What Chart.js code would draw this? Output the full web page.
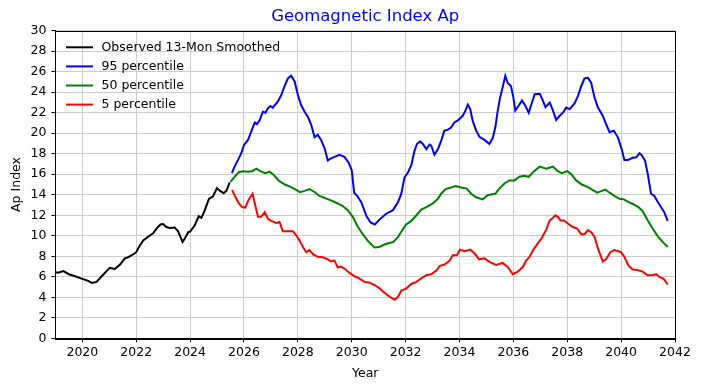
<!DOCTYPE html>
<html lang="en">

<head>
    <meta charset="UTF-8">
    <title>Geomagnetic Index Ap</title>
    <style>
        body { margin: 0; background: #fff; }
    </style>
</head>

<body>
    <canvas id="myChart" width="701" height="390"></canvas>
    <script src="https://cdn.jsdelivr.net/npm/chart.js"></script>
    <script>
        // [year, Ap] pairs
        const observedAp = [
            [2019.0, 6.45], [2019.1, 6.4], [2019.3, 6.55], [2019.5, 6.25], [2019.73, 6.05], [2020.0, 5.8],
            [2020.22, 5.6], [2020.35, 5.4], [2020.53, 5.5], [2020.72, 6.05], [2020.9, 6.55], [2021.02, 6.87],
            [2021.2, 6.75], [2021.4, 7.2], [2021.58, 7.8], [2021.7, 7.9], [2021.9, 8.2], [2022.0, 8.4],
            [2022.1, 8.9], [2022.26, 9.55], [2022.44, 9.9], [2022.63, 10.25], [2022.75, 10.7], [2022.9, 11.1],
            [2023.0, 11.15], [2023.12, 10.85], [2023.25, 10.75], [2023.43, 10.8], [2023.55, 10.45], [2023.72, 9.4],
            [2023.8, 9.7], [2023.93, 10.35], [2024.0, 10.4], [2024.17, 11.0], [2024.32, 11.9], [2024.42, 11.75],
            [2024.54, 12.45], [2024.7, 13.6], [2024.85, 13.85], [2025.0, 14.65], [2025.1, 14.4], [2025.25, 14.15],
            [2025.35, 14.4], [2025.47, 15.2]
        ];

        const p95Ap = [
            [2025.55, 16.1], [2025.65, 16.75], [2025.78, 17.4], [2025.9, 18.05], [2026.0, 18.85], [2026.15, 19.35],
            [2026.27, 20.15], [2026.4, 21.05], [2026.48, 20.9], [2026.58, 21.25], [2026.7, 22.1], [2026.8, 22.0],
            [2026.89, 22.45], [2026.98, 22.65], [2027.07, 22.5], [2027.26, 23.1], [2027.38, 23.7], [2027.5, 24.55],
            [2027.63, 25.35], [2027.75, 25.6], [2027.88, 25.05], [2028.0, 23.75], [2028.12, 22.75], [2028.25, 22.1],
            [2028.37, 21.6], [2028.5, 20.8], [2028.62, 19.6], [2028.74, 19.85], [2028.86, 19.35], [2028.99, 18.55],
            [2029.11, 17.35], [2029.23, 17.55], [2029.36, 17.7], [2029.54, 17.9], [2029.73, 17.7], [2029.89, 17.1],
            [2030.0, 16.4], [2030.09, 14.2], [2030.2, 13.9], [2030.35, 13.3], [2030.55, 11.9], [2030.7, 11.3],
            [2030.86, 11.1], [2031.04, 11.6], [2031.28, 12.15], [2031.53, 12.5], [2031.72, 13.3], [2031.84, 14.1],
            [2031.96, 15.7], [2032.09, 16.2], [2032.21, 16.85], [2032.33, 18.3], [2032.42, 18.95], [2032.54, 19.2],
            [2032.64, 18.95], [2032.77, 18.45], [2032.89, 18.9], [2032.95, 18.8], [2033.07, 17.9], [2033.2, 18.45],
            [2033.32, 19.25], [2033.44, 20.25], [2033.57, 20.35], [2033.69, 20.55], [2033.81, 21.05], [2033.94, 21.25],
            [2034.12, 21.7], [2034.22, 22.2], [2034.31, 22.8], [2034.4, 22.35], [2034.49, 21.2], [2034.62, 20.25],
            [2034.74, 19.65], [2034.93, 19.35], [2035.11, 18.95], [2035.23, 19.5], [2035.33, 20.55], [2035.42, 22.2],
            [2035.51, 23.5], [2035.6, 24.45], [2035.7, 25.6], [2035.79, 24.9], [2035.91, 24.6], [2036.0, 23.5],
            [2036.07, 22.2], [2036.2, 22.7], [2036.32, 23.2], [2036.44, 22.7], [2036.57, 22.0], [2036.69, 23.0],
            [2036.79, 23.8], [2036.98, 23.85], [2037.1, 23.15], [2037.19, 22.55], [2037.35, 23.0], [2037.47, 22.2],
            [2037.59, 21.3], [2037.72, 21.7], [2037.84, 22.0], [2037.96, 22.5], [2038.09, 22.35], [2038.27, 22.9],
            [2038.4, 23.65], [2038.52, 24.6], [2038.64, 25.35], [2038.77, 25.4], [2038.89, 24.9], [2039.01, 23.5],
            [2039.14, 22.5], [2039.32, 21.7], [2039.44, 20.9], [2039.57, 20.1], [2039.73, 20.25], [2039.88, 19.6],
            [2040.02, 18.45], [2040.12, 17.4], [2040.25, 17.4], [2040.43, 17.6], [2040.56, 17.65], [2040.68, 18.05],
            [2040.77, 17.85], [2040.89, 17.3], [2040.99, 16.0], [2041.11, 14.1], [2041.23, 13.9], [2041.36, 13.3],
            [2041.48, 12.8], [2041.6, 12.3], [2041.73, 11.45]
        ];

        const p50Ap = [
            [2025.5, 15.25], [2025.65, 15.75], [2025.81, 16.2], [2025.96, 16.3], [2026.15, 16.25], [2026.3, 16.3],
            [2026.46, 16.55], [2026.64, 16.25], [2026.8, 16.1], [2026.95, 16.25], [2027.1, 15.95], [2027.3, 15.35],
            [2027.52, 15.0], [2027.75, 14.75], [2027.92, 14.5], [2028.08, 14.25], [2028.25, 14.38], [2028.43, 14.55],
            [2028.62, 14.27], [2028.8, 13.88], [2028.99, 13.7], [2029.23, 13.45], [2029.48, 13.15], [2029.67, 12.9],
            [2029.85, 12.5], [2030.04, 11.85], [2030.22, 10.9], [2030.41, 10.15], [2030.6, 9.5], [2030.84, 8.85],
            [2031.02, 8.9], [2031.21, 9.15], [2031.4, 9.3], [2031.55, 9.4], [2031.72, 9.9], [2031.84, 10.4],
            [2032.0, 11.05], [2032.21, 11.45], [2032.4, 12.0], [2032.58, 12.55], [2032.77, 12.8], [2033.01, 13.15],
            [2033.2, 13.6], [2033.32, 14.1], [2033.48, 14.55], [2033.69, 14.7], [2033.85, 14.85], [2034.06, 14.7],
            [2034.27, 14.6], [2034.43, 14.1], [2034.62, 13.75], [2034.86, 13.55], [2035.05, 13.95], [2035.21, 14.05],
            [2035.33, 14.1], [2035.48, 14.6], [2035.67, 15.1], [2035.85, 15.4], [2036.04, 15.4], [2036.22, 15.75],
            [2036.41, 15.85], [2036.57, 15.75], [2036.77, 16.3], [2036.98, 16.75], [2037.22, 16.55], [2037.47, 16.75],
            [2037.65, 16.3], [2037.8, 16.1], [2038.0, 16.3], [2038.15, 16.0], [2038.33, 15.4], [2038.54, 15.0],
            [2038.77, 14.75], [2038.95, 14.45], [2039.11, 14.2], [2039.26, 14.35], [2039.42, 14.5], [2039.6, 14.15],
            [2039.78, 13.85], [2039.94, 13.6], [2040.1, 13.55], [2040.27, 13.3], [2040.47, 13.05], [2040.64, 12.8],
            [2040.8, 12.4], [2040.99, 11.5], [2041.17, 10.7], [2041.36, 9.95], [2041.54, 9.4], [2041.73, 8.9]
        ];

        const p5Ap = [
            [2025.56, 14.45], [2025.68, 13.8], [2025.81, 13.15], [2025.93, 12.8], [2026.05, 12.75], [2026.17, 13.5],
            [2026.32, 14.1], [2026.42, 12.95], [2026.52, 11.85], [2026.64, 11.85], [2026.77, 12.3], [2026.89, 11.65],
            [2027.01, 11.45], [2027.2, 11.25], [2027.32, 11.35], [2027.44, 10.45], [2027.63, 10.45], [2027.81, 10.45],
            [2027.94, 10.05], [2028.06, 9.55], [2028.19, 8.9], [2028.31, 8.4], [2028.43, 8.6], [2028.56, 8.2],
            [2028.74, 7.95], [2028.93, 7.9], [2029.11, 7.7], [2029.23, 7.5], [2029.36, 7.6], [2029.48, 6.9],
            [2029.6, 7.0], [2029.73, 6.8], [2029.91, 6.4], [2030.1, 6.05], [2030.28, 5.85], [2030.47, 5.5],
            [2030.65, 5.45], [2030.84, 5.2], [2031.02, 4.9], [2031.19, 4.5], [2031.41, 4.05], [2031.59, 3.75],
            [2031.72, 4.05], [2031.84, 4.65], [2032.02, 4.85], [2032.21, 5.3], [2032.4, 5.5], [2032.58, 5.85],
            [2032.77, 6.15], [2032.95, 6.25], [2033.14, 6.6], [2033.26, 7.05], [2033.44, 7.2], [2033.63, 7.55],
            [2033.75, 8.1], [2033.9, 8.1], [2034.02, 8.65], [2034.19, 8.5], [2034.4, 8.65], [2034.57, 8.25],
            [2034.73, 7.7], [2034.93, 7.8], [2035.11, 7.45], [2035.36, 7.15], [2035.6, 7.35], [2035.79, 6.95],
            [2035.98, 6.25], [2036.16, 6.5], [2036.35, 6.95], [2036.47, 7.55], [2036.6, 7.95], [2036.77, 8.75],
            [2036.91, 9.25], [2037.06, 9.8], [2037.22, 10.6], [2037.35, 11.5], [2037.43, 11.65], [2037.56, 12.0],
            [2037.65, 11.85], [2037.75, 11.5], [2037.88, 11.5], [2038.02, 11.2], [2038.21, 10.85], [2038.37, 10.7],
            [2038.52, 10.15], [2038.64, 10.15], [2038.77, 10.55], [2038.89, 10.35], [2039.01, 9.9], [2039.16, 8.6],
            [2039.32, 7.5], [2039.44, 7.7], [2039.6, 8.4], [2039.75, 8.6], [2040.0, 8.4], [2040.12, 7.95],
            [2040.27, 7.1], [2040.43, 6.7], [2040.62, 6.65], [2040.8, 6.5], [2040.99, 6.15], [2041.17, 6.15],
            [2041.3, 6.25], [2041.42, 6.0], [2041.58, 5.8], [2041.73, 5.25]
        ];

        const xTickValues = [2020, 2022, 2024, 2026, 2028, 2030, 2032, 2034, 2036, 2038, 2040, 2042];
        const yTickValues = [0, 2, 4, 6, 8, 10, 12, 14, 16, 18, 20, 22, 24, 26, 28, 30];

        const seriesLabels = ["Observed 13-Mon Smoothed", "95 percentile", "50 percentile", "5 percentile"];
        const seriesColors = ["#000000", "#0000ff", "#008000", "#ff0000"];

        const FONT = "DejaVu Sans";
        const toPoints = (arr) => arr.map(([x, y]) => ({ x: x, y: y }));

        // title, legend and the box around the plot, matplotlib style
        const extras = {
            id: "extras",
            afterDatasetsDraw(chart) {
                const { ctx, chartArea } = chart;
                ctx.save();
                ctx.textBaseline = "middle";
                ctx.font = "12.5px '" + FONT + "'";
                chart.data.datasets.forEach((ds, i) => {
                    const y = 47.3 + i * 19.1;
                    ctx.strokeStyle = ds.borderColor;
                    ctx.lineWidth = 2;
                    ctx.beginPath();
                    ctx.moveTo(66, y);
                    ctx.lineTo(93, y);
                    ctx.stroke();
                    ctx.fillStyle = "#000";
                    ctx.textAlign = "left";
                    ctx.fillText(ds.label, 101.5, y);
                });
                ctx.strokeStyle = "#000";
                ctx.lineWidth = 1;
                ctx.strokeRect(Math.round(chartArea.left) + 0.5, Math.round(chartArea.top) + 0.5,
                    Math.round(chartArea.right - chartArea.left), Math.round(chartArea.bottom - chartArea.top));
                ctx.fillStyle = "#0000ff";
                ctx.textAlign = "center";
                ctx.font = "16.5px '" + FONT + "'";
                ctx.fillText("Geomagnetic Index Ap", (chartArea.left + chartArea.right) / 2, 16.5);
                ctx.restore();
            }
        };

        const tickFont = { family: FONT, size: 12.5 };

        const ctx = document.getElementById("myChart");
        const myChart = new Chart(ctx, {
            type: "line",
            data: {
                datasets: [observedAp, p95Ap, p50Ap, p5Ap].map((arr, i) => ({
                    label: seriesLabels[i],
                    data: toPoints(arr),
                    borderColor: seriesColors[i],
                    backgroundColor: seriesColors[i],
                    borderWidth: 2,
                    pointRadius: 0,
                    tension: 0,
                    fill: false
                }))
            },
            options: {
                responsive: false,
                animation: false,
                events: [],
                layout: { padding: { top: 30.7, right: 26, left: 0, bottom: 0 } },
                plugins: {
                    legend: { display: false },
                    title: { display: false },
                    tooltip: { enabled: false }
                },
                scales: {
                    x: {
                        type: "linear",
                        min: 2019,
                        max: 2042,
                        afterBuildTicks: (s) => { s.ticks = xTickValues.map(v => ({ value: v })); },
                        afterFit: (s) => { s.height = 51.7; },
                        grid: { color: "#cccccc", lineWidth: 1, tickColor: "#000", tickLength: 4 },
                        border: { display: true, color: "#000" },
                        ticks: {
                            color: "#000", font: tickFont, padding: 3, maxRotation: 0, autoSkip: false,
                            callback: (v) => String(v)
                        },
                        title: {
                            display: true, text: "Year", color: "#000", font: tickFont,
                            padding: { top: 0, bottom: 9 }
                        }
                    },
                    y: {
                        min: 0,
                        max: 30,
                        afterBuildTicks: (s) => { s.ticks = yTickValues.map(v => ({ value: v })); },
                        afterFit: (s) => { s.width = 55.4; },
                        grid: { color: "#cccccc", lineWidth: 1, tickColor: "#000", tickLength: 4 },
                        border: { display: true, color: "#000" },
                        ticks: { color: "#000", font: tickFont, padding: 5, callback: (v) => String(v) },
                        title: {
                            display: true, text: "Ap Index", color: "#000", font: tickFont,
                            padding: { top: 9, bottom: 0 }
                        }
                    }
                }
            },
            plugins: [extras]
        });
    </script>
</body>

</html>
